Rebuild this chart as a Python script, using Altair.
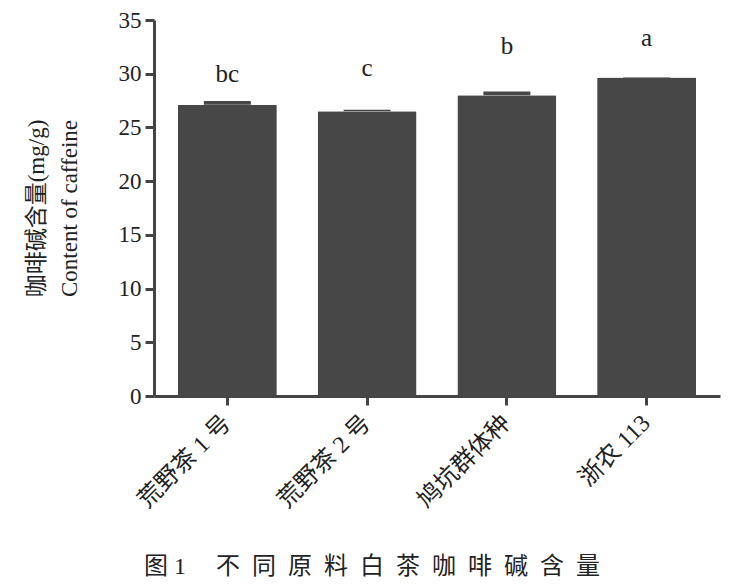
import altair as alt
import pandas as pd

categories = ["荒野茶 1 号", "荒野茶 2 号", "鸠坑群体种", "浙农 113"]
means = [27.1, 26.5, 28.0, 29.65]
errors = [0.35, 0.15, 0.35, 0.05]
letters = ["bc", "c", "b", "a"]
letter_y = [29.2, 29.8, 31.8, 32.6]

df = pd.DataFrame({
    "cat": categories,
    "mean": means,
    "err": errors,
    "upper": [m + e for m, e in zip(means, errors)],
    "letter": letters,
    "ly": letter_y,
})

BAR = "#474747"
AXC = "#444444"
SERIF = "Liberation Serif, Noto Sans CJK SC"

x = alt.X("cat:N", sort=categories, title=None,
          scale=alt.Scale(paddingInner=0.29, paddingOuter=0.17),
          axis=alt.Axis(labelAngle=-45, labelAlign="right", labelBaseline="middle",
                        labelFont=SERIF, labelFontSize=24, labelColor="#222222",
                        labelPadding=14, domainColor=AXC, domainWidth=3,
                        tickColor=AXC, tickWidth=3, tickSize=9))

y_axis = alt.Axis(values=[0, 5, 10, 15, 20, 25, 30, 35], grid=False,
                  labelFont=SERIF, labelFontSize=23, labelColor="#222222",
                  labelPadding=4, domainColor=AXC, domainWidth=3,
                  tickColor=AXC, tickWidth=3, tickSize=9,
                  title=["咖啡碱含量(mg/g)", "Content of caffeine"],
                  titleFont=SERIF, titleFontSize=23, titleFontWeight="normal",
                  titleColor="#222222", titleLineHeight=33, titlePadding=37)

base = alt.Chart(df)

bars = base.mark_bar(color=BAR, size=99, cornerRadius=1).encode(
    x=x,
    y=alt.Y("mean:Q", scale=alt.Scale(domain=[0, 35], nice=False), axis=y_axis),
)

errs = base.mark_bar(color=BAR, size=47).encode(
    x=alt.X("cat:N", sort=categories),
    y=alt.Y("mean:Q"),
    y2="upper:Q",
)

labels = base.mark_text(font=SERIF, fontSize=25, color="#222222", baseline="alphabetic").encode(
    x=alt.X("cat:N", sort=categories),
    y=alt.Y("ly:Q"),
    text="letter:N",
)

caption = "图\u00a01\u3000\u00a0" + "\u2002".join("不同原料白茶咖啡碱含量")

chart = alt.layer(bars, errs, labels).properties(
    width=566, height=376,
    background="white",
    autosize=alt.AutoSizeParams(type="none"),
    padding={"left": 146, "top": 12, "right": 13, "bottom": 190},
    title=alt.TitleParams(caption, orient="bottom",
                          anchor="middle", dx=-65, offset=43,
                          font=SERIF, fontSize=24, fontWeight="normal", color="#222222"),
).configure_view(stroke=None)

chart.save("out.html", embed_options={"renderer": "svg", "actions": False})
